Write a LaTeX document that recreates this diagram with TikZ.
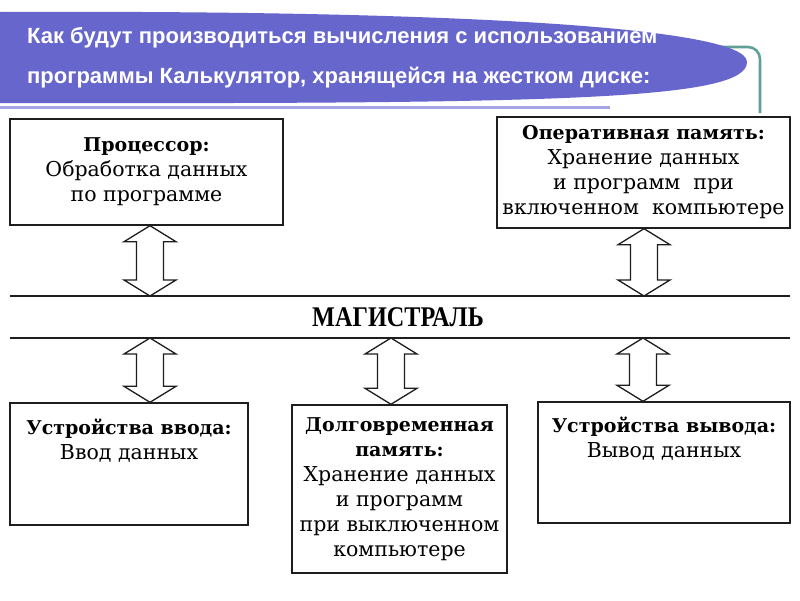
\documentclass[tikz,border=0pt]{standalone}
\usepackage{fontspec}
\setmainfont{DejaVu Serif}
\newfontfamily\headfont{Liberation Sans}
\newfontfamily\busfont[FakeStretch=0.85]{Liberation Serif}
\usetikzlibrary{calc}
\definecolor{Banner}{RGB}{102,102,204}
\definecolor{BannerLight}{RGB}{165,165,228}
\definecolor{Teal}{RGB}{96,160,150}
\definecolor{Ink}{RGB}{30,30,30}
\newcommand{\boxtitle}[1]{{\fontsize{19}{25}\selectfont\bfseries #1}}

\tikzset{
  box/.style={draw=Ink, line width=1.4pt, fill=white, align=center, inner sep=0pt,
    font=\fontsize{20.5}{25}\selectfont},
  headtext/.style={text=white, inner sep=0pt, font=\headfont\bfseries\fontsize{22}{24}\selectfont},
  busline/.style={draw=Ink, line width=1.8pt},
  busarrow/.style={draw=Ink, fill=white, line width=1.3pt, line join=miter,
    to path={let \p1=(\tikztostart), \p2=(\tikztotarget) in
      (\x1,\y1) -- (\x1+26pt,\y1-16pt) -- (\x1+13.5pt,\y1-16pt) -- (\x1+13.5pt,\y2+16pt)
      -- (\x1+26pt,\y2+16pt) -- (\x1,\y2) -- (\x1-26pt,\y2+16pt) -- (\x1-13.5pt,\y2+16pt)
      -- (\x1-13.5pt,\y1-16pt) -- (\x1-26pt,\y1-16pt) -- cycle}},
}

\begin{document}
\begin{tikzpicture}[x=1pt, y=-1pt]
	\useasboundingbox (0,0) rectangle (800,600);
	\fill[white] (0,0) rectangle (800,600);

	% Banner
	\draw[Teal, line width=2.6, rounded corners=12] (600,47) -- (760,47) -- (760,113);
	\fill[Banner] (0,12) .. controls (420,10) and (747,25) .. (747,62) .. controls (747,100) and (560,104) .. (0,103) -- cycle;
	\draw[BannerLight, line width=3] (0,107.5) -- (610,107.5);
	\node[headtext, anchor=west] (head1) at (27,38) {Как будут производиться вычисления с использованием};
	\node[headtext, anchor=west] (head2) at (27,78) {программы Калькулятор, хранящейся на жестком диске:};

	% Bus
	\coordinate (busL1) at (10,296);
	\coordinate (busR1) at (790,296);
	\coordinate (busL2) at (10,338);
	\coordinate (busR2) at (790,338);
	\draw[busline] (busL1) -- (busR1);
	\draw[busline] (busL2) -- (busR2);
	\node[font=\busfont\bfseries\fontsize{28.5}{28.5}\selectfont] (bus) at (398,317) {МАГИСТРАЛЬ};

	\coordinate (t1) at (150,296);
	\coordinate (t2) at (644,296);
	\coordinate (b1) at (150,338);
	\coordinate (b2) at (391,338);
	\coordinate (b3) at (643,338);

	% Boxes
	\node[box, minimum width=273, minimum height=106] (proc) at (146.5,172) {\boxtitle{Процессор:}\\Обработка данных\\по программе};
	\node[box, minimum width=293, minimum height=111] (ram) at (643.5,172.5) {\boxtitle{Оперативная память:}\\Хранение данных\\и программ~~при\\включенном~~компьютере};
	\node[box, minimum width=238, minimum height=122] (inp) at (129,464) {\boxtitle{Устройства ввода:}\\Ввод данных\\~\\~};
	\node[box, minimum width=215, minimum height=168] (rom) at (399.5,489) {\boxtitle{Долговременная}\\\boxtitle{память:}\\Хранение данных\\и программ\\при выключенном\\компьютере};
	\node[box, minimum width=252, minimum height=121] (out) at (664,462.5) {\boxtitle{Устройства вывода:}\\Вывод данных\\~\\~};

	% Arrows
	\draw[busarrow] (t1 |- proc.south) to (t1);
	\draw[busarrow] (t2 |- ram.south) to (t2);
	\draw[busarrow] (b1) to (b1 |- inp.north);
	\draw[busarrow] (b2) to (b2 |- rom.north);
	\draw[busarrow] (b3) to (b3 |- out.north);
\end{tikzpicture}
\end{document}
